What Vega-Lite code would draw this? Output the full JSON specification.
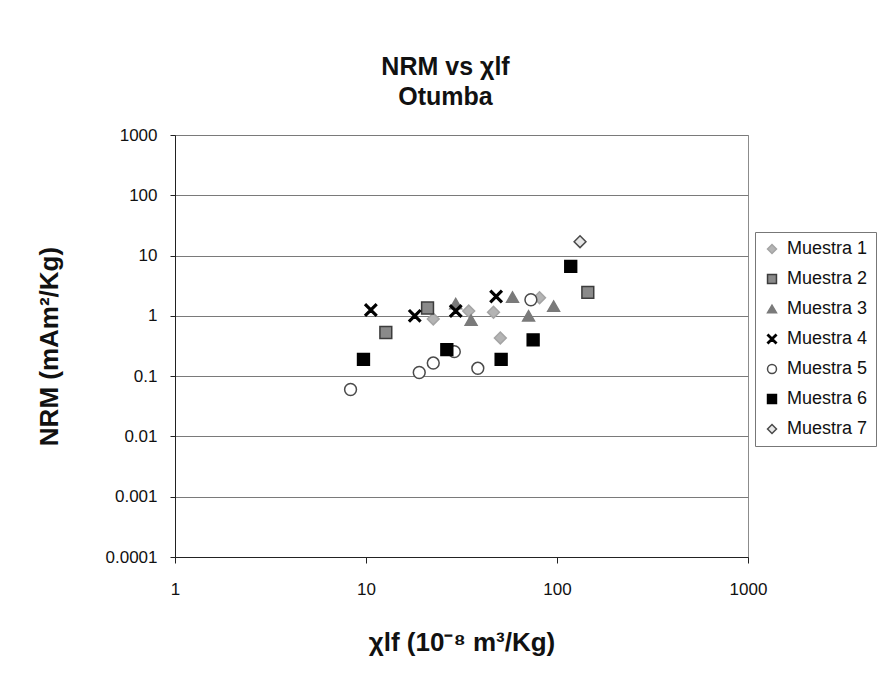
{
  "$schema": "https://vega.github.io/schema/vega-lite/v6.json",
  "width": 573,
  "height": 422,
  "autosize": "none",
  "padding": {"left": 175, "top": 135, "right": 148, "bottom": 119},
  "background": "white",
  "config": {
    "font": "Liberation Sans",
    "view": {"stroke": "#8c8c8c", "strokeWidth": 1}
  },
  "title": {
    "text": ["NRM vs χlf", "Otumba"],
    "fontSize": 25,
    "fontWeight": "bold",
    "font": "Liberation Sans",
    "color": "#111111",
    "lineHeight": 30,
    "anchor": "middle",
    "frame": "group",
    "offset": 16,
    "dx": -16
  },
  "data": {
    "values": [
      {"serie": "Muestra 1", "chi": 22.5, "nrm": 0.89},
      {"serie": "Muestra 1", "chi": 34.5, "nrm": 1.2},
      {"serie": "Muestra 1", "chi": 46.5, "nrm": 1.15},
      {"serie": "Muestra 1", "chi": 50.5, "nrm": 0.43},
      {"serie": "Muestra 1", "chi": 81, "nrm": 2.0},
      {"serie": "Muestra 2", "chi": 12.7, "nrm": 0.53},
      {"serie": "Muestra 2", "chi": 21, "nrm": 1.35},
      {"serie": "Muestra 2", "chi": 145, "nrm": 2.45},
      {"serie": "Muestra 3", "chi": 29.5, "nrm": 1.6},
      {"serie": "Muestra 3", "chi": 35.5, "nrm": 0.85},
      {"serie": "Muestra 3", "chi": 58.5, "nrm": 2.05},
      {"serie": "Muestra 3", "chi": 71, "nrm": 1.0},
      {"serie": "Muestra 3", "chi": 96, "nrm": 1.45},
      {"serie": "Muestra 4", "chi": 10.6, "nrm": 1.25},
      {"serie": "Muestra 4", "chi": 18, "nrm": 1.0},
      {"serie": "Muestra 4", "chi": 29.5, "nrm": 1.2},
      {"serie": "Muestra 4", "chi": 48, "nrm": 2.1},
      {"serie": "Muestra 5", "chi": 8.3, "nrm": 0.06},
      {"serie": "Muestra 5", "chi": 19, "nrm": 0.115},
      {"serie": "Muestra 5", "chi": 22.5, "nrm": 0.165},
      {"serie": "Muestra 5", "chi": 29, "nrm": 0.255},
      {"serie": "Muestra 5", "chi": 38.5, "nrm": 0.135},
      {"serie": "Muestra 5", "chi": 73, "nrm": 1.85},
      {"serie": "Muestra 6", "chi": 9.7, "nrm": 0.19},
      {"serie": "Muestra 6", "chi": 26.5, "nrm": 0.275},
      {"serie": "Muestra 6", "chi": 51, "nrm": 0.19},
      {"serie": "Muestra 6", "chi": 75, "nrm": 0.4},
      {"serie": "Muestra 6", "chi": 118, "nrm": 6.6},
      {"serie": "Muestra 7", "chi": 132, "nrm": 17}
    ]
  },
  "mark": {"type": "point", "filled": true, "size": 140, "strokeWidth": 1.5, "opacity": 1},
  "encoding": {
    "x": {
      "field": "chi",
      "type": "quantitative",
      "scale": {"type": "log", "domain": [1, 1000], "nice": false},
      "axis": {
        "title": "χlf (10⁻⁸ m³/Kg)",
        "titleFontSize": 26,
        "titleFontWeight": "bold",
        "titleColor": "#111111",
        "titlePadding": 32,
        "values": [1, 10, 100, 1000],
        "format": "~g",
        "labelFontSize": 17,
        "labelColor": "#111111",
        "labelPadding": 18,
        "labelFlush": false,
        "tickSize": 6,
        "tickColor": "#222222",
        "domainColor": "#222222",
        "grid": false
      }
    },
    "y": {
      "field": "nrm",
      "type": "quantitative",
      "scale": {"type": "log", "domain": [0.0001, 1000], "nice": false},
      "axis": {
        "title": "NRM (mAm²/Kg)",
        "titleFontSize": 26,
        "titleFontWeight": "bold",
        "titleColor": "#111111",
        "titlePadding": 43,
        "values": [0.0001, 0.001, 0.01, 0.1, 1, 10, 100, 1000],
        "format": "~g",
        "labelFontSize": 17,
        "labelColor": "#111111",
        "labelPadding": 13,
        "labelFlush": false,
        "tickSize": 5,
        "tickColor": "#222222",
        "domainColor": "#222222",
        "grid": true,
        "gridColor": "#7a7a7a",
        "gridWidth": 1.2
      }
    },
    "shape": {
      "field": "serie",
      "type": "nominal",
      "scale": {
        "domain": ["Muestra 1", "Muestra 2", "Muestra 3", "Muestra 4", "Muestra 5", "Muestra 6", "Muestra 7"],
        "range": ["diamond", "square", "triangle-up", "M-1,-0.8L-0.8,-1L0,-0.2L0.8,-1L1,-0.8L0.2,0L1,0.8L0.8,1L0,0.2L-0.8,1L-1,0.8L-0.2,0Z", "circle", "square", "diamond"]
      },
      "legend": {
        "title": null,
        "orient": "none",
        "legendX": 580,
        "legendY": 97,
        "labelFontSize": 18,
        "labelColor": "#111111",
        "symbolSize": 80,
        "symbolStrokeWidth": 1.5,
        "rowPadding": 12,
        "padding": 8,
        "strokeColor": "#777777",
        "labelOffset": 6,
        "labelLimit": 200
      }
    },
    "fill": {
      "field": "serie",
      "type": "nominal",
      "scale": {
        "domain": ["Muestra 1", "Muestra 2", "Muestra 3", "Muestra 4", "Muestra 5", "Muestra 6", "Muestra 7"],
        "range": ["#b4b4b4", "#8a8a8a", "#7a7a7a", "#000000", "#ffffff", "#000000", "#e6e6e6"]
      },
      "legend": null
    },
    "stroke": {
      "field": "serie",
      "type": "nominal",
      "scale": {
        "domain": ["Muestra 1", "Muestra 2", "Muestra 3", "Muestra 4", "Muestra 5", "Muestra 6", "Muestra 7"],
        "range": ["#a4a4a4", "#3c3c3c", "#7a7a7a", "#000000", "#4a4a4a", "#000000", "#4a4a4a"]
      },
      "legend": null
    }
  }
}
